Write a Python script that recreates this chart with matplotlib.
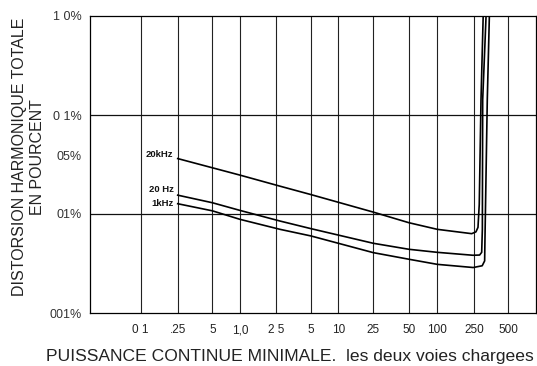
import numpy as np
import matplotlib
matplotlib.use("Agg")
import matplotlib.pyplot as plt
from matplotlib.transforms import ScaledTranslation

plt.rcParams["font.family"] = ["Liberation Sans", "DejaVu Sans"]

# power axis (W) and its printed labels
x_ticks = [0.1, 0.25, 0.5, 1, 2.5, 5, 10, 25, 50, 100, 250, 500]
x_labels = ["0 1", ".25", "5", "1,0", "2 5", "5", "10", "25", "50", "100", "250", "500"]

# distortion axis (%)
y_ticks = [1.0, 0.1, 0.05, 0.01, 0.001]
y_labels = ["1 0%", "0 1%", "05%", "01%", "001%"]
y_grid = [0.1, 0.01]

# curves: power (W), THD (%)
p_20k = [0.25, 1, 2.72, 5, 25, 50, 100, 236, 260, 271, 278, 288, 301]
d_20k = [0.0363, 0.0247, 0.0191, 0.0157, 0.01045, 0.00816, 0.0070, 0.00633, 0.0066, 0.00733, 0.0125, 0.1426, 1.0]

p_20 = [0.25, 0.5, 1, 2.72, 5, 25, 50, 100, 244, 280, 292, 296, 298, 319]
d_20 = [0.0155, 0.0130, 0.01087, 0.00849, 0.00711, 0.00506, 0.00440, 0.0041, 0.00383, 0.00385, 0.0041, 0.0070, 0.1426, 1.0]

p_1k = [0.25, 0.5, 1, 2.72, 5, 25, 50, 100, 245, 295, 310, 312, 327, 341]
d_1k = [0.0127, 0.01077, 0.00883, 0.0070, 0.0060, 0.00407, 0.00349, 0.0031, 0.00288, 0.0030, 0.00336, 0.00555, 0.1426, 1.0]

curve_names = ["20kHz", "20 Hz", "1kHz"]

# the printed x axis is not a clean log scale: pin each tick to where it sits
tick_px = [140.7, 177.7, 212.3, 240, 275.7, 311, 338.3, 373.3, 409, 437.3, 474, 508.3]
anch_log = np.concatenate([[-3], np.log10(x_ticks), [5]])
anch_px = np.concatenate([[140.7 - 2 * 99.4], tick_px, [508.3 + (5 - np.log10(500)) * 99.4]])


def fwd(x):
    x = np.clip(np.asarray(x, dtype=float), 1e-6, None)
    return np.interp(np.log10(x), anch_log, anch_px)


def inv(p):
    return 10 ** np.interp(np.asarray(p, dtype=float), anch_px, anch_log)


fig = plt.figure(figsize=(5.37, 3.66), dpi=100)
ax = fig.add_axes([90 / 537, 1 - 313 / 366, 446 / 537, 297 / 366])

ax.set_xscale("function", functions=(fwd, inv))
ax.set_yscale("log")
ax.set_xlim(inv(90), inv(536))
ax.set_ylim(0.001, 1.0)

for v in x_ticks:
    ax.axvline(v, color="#222222", lw=0.8, zorder=1)
for v in y_grid:
    ax.axhline(v, color="#111111", lw=0.9, zorder=1)

for p, d in [(p_20k, d_20k), (p_20, d_20), (p_1k, d_1k)]:
    ax.plot(p, d, color="black", lw=1.2, solid_joinstyle="round", zorder=3)

for name, p, d, dy in zip(curve_names, [p_20k, p_20, p_1k], [d_20k, d_20, d_1k], [3, 4, 0]):
    ax.annotate(name, (p[0], d[0]), xytext=(-3, dy), textcoords="offset points",
                ha="right", va="center", fontsize=6.8, fontweight="bold", color="#111111")

ax.set_xticks(x_ticks)
ax.set_xticklabels(x_labels, fontsize=8.5, color="#222222")
ax.set_yticks(y_ticks)
ax.set_yticklabels(y_labels, fontsize=9, color="#333333")
ax.minorticks_off()
ax.tick_params(axis="x", length=0, pad=8)
ax.tick_params(axis="y", length=0, pad=6)

# the .05 label is printed a bit below its true place on the scan
lab = ax.get_yticklabels()[2]
lab.set_transform(lab.get_transform() + ScaledTranslation(0, -8 / 72, fig.dpi_scale_trans))

for s in ax.spines.values():
    s.set_color("black")
    s.set_linewidth(0.9)

fig.text(20 / 537, 1 - 157 / 366, "DISTORSION HARMONIQUE TOTALE", rotation=90,
         ha="center", va="center", fontsize=11.5, color="#222222")
fig.text(38 / 537, 1 - 157 / 366, "EN POURCENT", rotation=90,
         ha="center", va="center", fontsize=11.5, color="#222222")
fig.text(290 / 537, 1 - 357 / 366, "PUISSANCE CONTINUE MINIMALE.  les deux voies chargees",
         ha="center", va="center", fontsize=12.6, color="#222222")

fig.savefig("out.png", dpi=100, facecolor="white")
